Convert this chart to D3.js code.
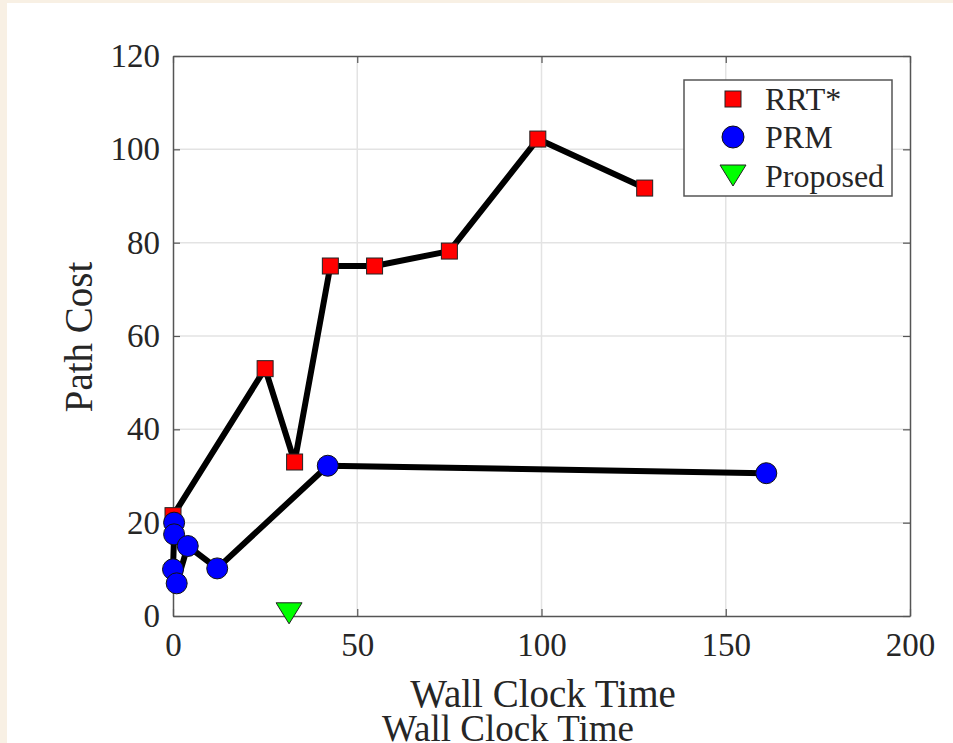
<!DOCTYPE html>
<meta charset="utf-8">
<head>
<style>
  html, body { margin: 0; padding: 0; background: #f8f0e4; }
  #chart { position: absolute; left: 7px; top: 3px; width: 946px; height: 740px; background: #fff; overflow: hidden; }
  svg text { font-family: "Liberation Serif", "Times New Roman", serif; fill: #262626; }
</style>
</head>
<body>
<div id="chart"></div>
<script src="https://d3js.org/d3.v7.min.js"></script>
<script>

// data
var rrtX = [0, 25, 33, 42.7, 54.7, 75, 99, 128];
var rrtY = [21.5, 53, 33, 75, 75, 78.2, 102.2, 91.7];

var prmX = [0.3, 0.3, 0, 1, 4, 12, 42, 161];
var prmY = [20, 17.5, 10, 7, 15, 10.2, 32.2, 30.6];

var propX = [31.5];
var propY = [0.9];

var xTicks = [0, 50, 100, 150, 200];
var yTicks = [0, 20, 40, 60, 80, 100, 120];
var legendNames = ["RRT*", "PRM", "Proposed"];

// chart geometry (page coords minus the div offset)
var ox = 7, oy = 3;
var plotL = 173 - ox, plotR = 910 - ox, plotT = 56 - oy, plotB = 616 - oy;

var svg = d3.select("#chart").append("svg")
  .attr("width", 946)
  .attr("height", 740);

var x = d3.scaleLinear().domain([0, 200]).range([plotL, plotR]);
var y = d3.scaleLinear().domain([0, 120]).range([plotB, plotT]);

// grid
svg.append("g").selectAll("line").data(xTicks.slice(1, -1)).enter().append("line")
  .attr("x1", function(d) { return x(d); }).attr("x2", function(d) { return x(d); })
  .attr("y1", plotT).attr("y2", plotB)
  .attr("stroke", "#e3e3e3").attr("stroke-width", 1.5);
svg.append("g").selectAll("line").data(yTicks.slice(1, -1)).enter().append("line")
  .attr("y1", function(d) { return y(d); }).attr("y2", function(d) { return y(d); })
  .attr("x1", plotL).attr("x2", plotR)
  .attr("stroke", "#e3e3e3").attr("stroke-width", 1.5);

// axes (ticks inward)
var axisColor = "#555";
var xAxis = svg.append("g").attr("transform", "translate(0," + plotB + ")")
  .call(d3.axisBottom(x).tickValues(xTicks).tickSizeInner(-7).tickSizeOuter(0).tickPadding(17));
var yAxis = svg.append("g").attr("transform", "translate(" + plotL + ",0)")
  .call(d3.axisLeft(y).tickValues(yTicks).tickSizeInner(-7).tickSizeOuter(0).tickPadding(13));
var xTop = svg.append("g").attr("transform", "translate(0," + plotT + ")")
  .call(d3.axisTop(x).tickValues(xTicks).tickSizeInner(-7).tickSizeOuter(0).tickFormat(""));
var yRight = svg.append("g").attr("transform", "translate(" + plotR + ",0)")
  .call(d3.axisRight(y).tickValues(yTicks).tickSizeInner(-7).tickSizeOuter(0).tickFormat(""));

[xAxis, yAxis, xTop, yRight].forEach(function(a) {
  a.select(".domain").attr("stroke", axisColor).attr("stroke-width", 1.5);
  a.selectAll(".tick line").attr("stroke", axisColor).attr("stroke-width", 1.2);
  a.selectAll(".tick text").attr("font-size", 33).attr("font-family", "Liberation Serif").attr("fill", "#333");
});
xAxis.selectAll(".tick text").attr("dy", "0.71em");

// axis titles
svg.append("text")
  .attr("transform", "translate(" + (92 - ox) + "," + (337 - oy) + ") rotate(-90)")
  .attr("text-anchor", "middle")
  .attr("font-size", 39)
  .attr("fill", "#333")
  .text("Path Cost");

svg.append("text")
  .attr("x", 543 - ox).attr("y", 707 - oy)
  .attr("text-anchor", "middle")
  .attr("font-size", 39)
  .attr("fill", "#333")
  .text("Wall Clock Time");

// second, clipped copy of the title at the bottom edge (as in the source image)
svg.append("text")
  .attr("x", 508 - ox).attr("y", 741 - oy)
  .attr("text-anchor", "middle")
  .attr("font-size", 37)
  .attr("fill", "#2a2a2a")
  .text("Wall Clock Time");

// lines
var line = d3.line().x(function(d) { return x(d[0]); }).y(function(d) { return y(d[1]); });
var rrt = d3.zip(rrtX, rrtY);
var prm = d3.zip(prmX, prmY);
var prop = d3.zip(propX, propY);

svg.append("path").datum(rrt).attr("d", line)
  .attr("fill", "none").attr("stroke", "#000").attr("stroke-width", 6).attr("stroke-linejoin", "round");
svg.append("path").datum(prm).attr("d", line)
  .attr("fill", "none").attr("stroke", "#000").attr("stroke-width", 6).attr("stroke-linejoin", "round");

// markers
var sq = 16;
svg.append("g").selectAll("rect").data(rrt).enter().append("rect")
  .attr("x", function(d) { return x(d[0]) - sq / 2; })
  .attr("y", function(d) { return y(d[1]) - sq / 2; })
  .attr("width", sq).attr("height", sq)
  .attr("fill", "#ff0000").attr("stroke", "#222").attr("stroke-width", 1);

svg.append("g").selectAll("circle").data(prm).enter().append("circle")
  .attr("cx", function(d) { return x(d[0]); })
  .attr("cy", function(d) { return y(d[1]); })
  .attr("r", 10.5)
  .attr("fill", "#0000ff").attr("stroke", "#111").attr("stroke-width", 1);

function tri(cx, cy) {
  return "M" + (cx - 13) + "," + (cy - 9) + "L" + (cx + 13) + "," + (cy - 9) + "L" + cx + "," + (cy + 12) + "Z";
}
svg.append("g").selectAll("path").data(prop).enter().append("path")
  .attr("d", function(d) { return tri(x(d[0]), y(d[1])); })
  .attr("fill", "#00ff00").attr("stroke", "#222").attr("stroke-width", 1);

// legend
var lg = svg.append("g").attr("transform", "translate(" + (684 - ox) + "," + (80 - oy) + ")");
lg.append("rect").attr("width", 208).attr("height", 116)
  .attr("fill", "#fff").attr("stroke", "#555").attr("stroke-width", 1.5);
var rowY = [19, 57, 96];
lg.append("rect").attr("x", 49 - sq / 2).attr("y", rowY[0] - sq / 2).attr("width", sq).attr("height", sq)
  .attr("fill", "#ff0000").attr("stroke", "#222");
lg.append("circle").attr("cx", 49).attr("cy", rowY[1]).attr("r", 11)
  .attr("fill", "#0000ff").attr("stroke", "#111");
lg.append("path").attr("d", tri(49, rowY[2] - 2))
  .attr("fill", "#00ff00").attr("stroke", "#222");
lg.selectAll("text.lbl").data(legendNames).enter().append("text")
  .attr("class", "lbl")
  .attr("x", 81)
  .attr("y", function(d, i) { return rowY[i]; })
  .attr("dy", "0.35em")
  .attr("font-size", 32)
  .attr("fill", "#222")
  .text(function(d) { return d; });

</script>
</body>
